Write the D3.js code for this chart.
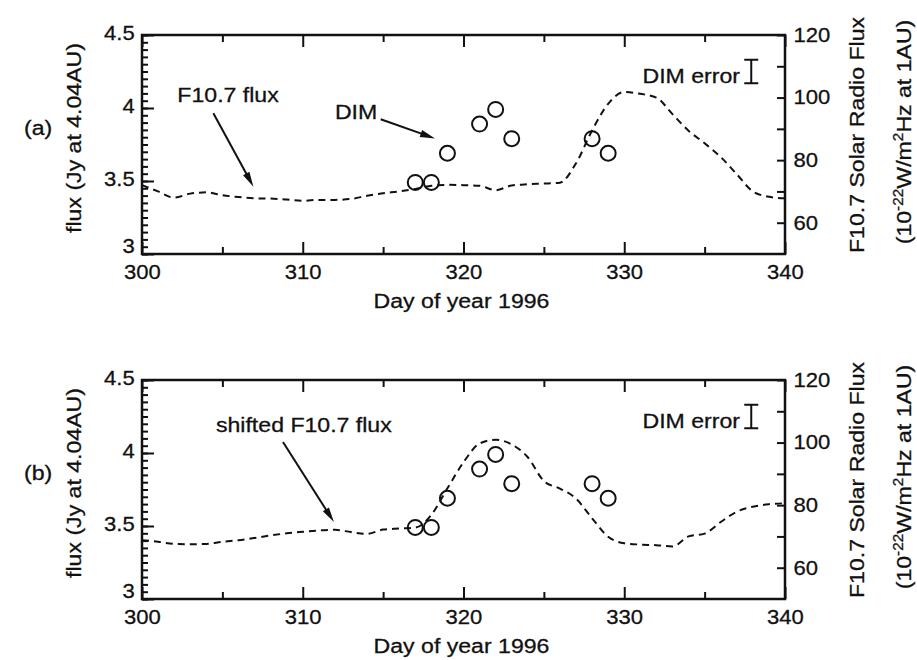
<!DOCTYPE html>
<html>
<head>
<meta charset="utf-8">
<script src="https://cdn.jsdelivr.net/npm/d3@7"></script>
<style>
  html, body { margin: 0; padding: 0; background: #fff; }
  svg { display: block; }
  text { font-family: "Liberation Sans", Arial, Helvetica, sans-serif; fill: #111; stroke: #111; stroke-width: 0.3px; }
</style>
</head>
<body>
<svg id="chart" width="917" height="660"></svg>
<script>
// ---- data -------------------------------------------------------------
const days = [300, 301, 302, 303, 304, 305, 306, 307, 308, 309,
              310, 311, 312, 313, 314, 315, 316, 317, 318, 319,
              320, 321, 322, 323, 324, 325, 326, 327, 328, 329,
              330, 331, 332, 333, 334, 335, 336, 337, 338, 339, 340];

// daily F10.7 solar radio flux (10^-22 W/m^2/Hz at 1 AU)
const f107Flux = [72.0, 70.0, 68.0, 69.3, 69.7, 68.8, 68.2, 67.8, 67.7, 67.4,
                  67.0, 67.3, 67.3, 67.6, 68.6, 69.4, 70.0, 70.8, 71.8, 72.1,
                  72.0, 71.8, 70.4, 71.9, 72.3, 72.5, 72.8, 79.0, 89.5, 98.0,
                  101.8, 101.2, 100.0, 94.7, 89.4, 85.4, 81.0, 75.5, 70.0, 68.3, 67.8];

// the same flux shifted in time
const f107Shifted = [68.8, 68.3, 67.6, 67.5, 67.6, 68.3, 68.8, 69.5, 70.3, 71.0,
                     71.5, 71.9, 72.1, 71.4, 70.8, 72.2, 72.5, 72.8, 76.9, 85.4,
                     93.7, 99.7, 100.9, 99.4, 95.3, 87.7, 85.3, 82.1, 75.8, 69.9,
                     67.8, 67.4, 67.2, 66.8, 70.0, 70.9, 74.6, 77.9, 79.5, 80.3, 80.6];

// DIM measurements (Jy at 4.04 AU)
const dimDays = [317, 318, 319, 321, 322, 323, 328, 329];
const dimFlux = [3.49, 3.49, 3.69, 3.89, 3.99, 3.79, 3.79, 3.69];
const dimErrorHalf = 0.08;

// axes
const dayDomain = [300, 340];
const dayTicks = [300, 310, 320, 330, 340];
const dayMinorTicks = [305, 315, 325, 335];
const fluxDomain = [3, 4.5];
const fluxTicks = [3, 3.5, 4, 4.5];
const sfuDomain = [50, 120];
const sfuTicks = [60, 80, 100, 120];
const sfuMinorTicks = [70, 90, 110];

// text
const panelNames = ["(a)", "(b)"];
const seriesNames = ["F10.7 flux", "shifted F10.7 flux"];
const xTitle = "Day of year 1996";
const yTitle = "flux (Jy at 4.04AU)";
const y2Title = "F10.7 Solar Radio Flux";

// ---- layout -----------------------------------------------------------
const svg = d3.select("#chart");
const L = 142, R = 785, H = 219;
const tops = [35, 380];
const FS = 21;       // font size
const K = 1.1;       // horizontal stretch of the lettering
const KT = 1.05;     // stretch of tick numbers

const x = d3.scaleLinear().domain(dayDomain).range([L, R]);

function stretchedText(g, str, tx, ty, opts = {}) {
  const rot = opts.rotate ? ` rotate(${opts.rotate})` : "";
  return g.append("text")
    .attr("transform", `translate(${tx},${ty})${rot} scale(${opts.k || K},1)`)
    .attr("text-anchor", opts.anchor || "start")
    .attr("font-size", opts.size || FS)
    .text(str);
}

function arrow(g, x1, y1, x2, y2) {
  const ang = Math.atan2(y2 - y1, x2 - x1);
  const len = 15, hw = 3.6;
  const bx = x2 - len * Math.cos(ang), by = y2 - len * Math.sin(ang);
  g.append("line")
    .attr("x1", x1).attr("y1", y1).attr("x2", bx + 2 * Math.cos(ang)).attr("y2", by + 2 * Math.sin(ang))
    .attr("stroke", "#111").attr("stroke-width", 2);
  const px = -Math.sin(ang) * hw, py = Math.cos(ang) * hw;
  g.append("path")
    .attr("d", `M${x2},${y2}L${bx + px},${by + py}L${bx - px},${by - py}Z`)
    .attr("fill", "#111");
}

const panels = [
  {
    series: f107Flux,
    label: { text: seriesNames[0], day: 302.2, flux: 4.04 },
    arrows: [
      { from: [304.44, 3.964], to: [306.93, 3.461] },
      { from: [314.85, 3.923], to: [318.23, 3.791] }
    ],
    dimLabel: { day: 312.0, flux: 3.925 }
  },
  {
    series: f107Shifted,
    label: { text: seriesNames[1], day: 304.6, flux: 4.144 },
    arrows: [
      { from: [308.77, 4.075], to: [311.94, 3.527] }
    ],
    dimLabel: null
  }
];

panels.forEach((p, i) => {
  const top = tops[i], bottom = top + H;
  const yL = d3.scaleLinear().domain(fluxDomain).range([bottom, top]);
  const yR = d3.scaleLinear().domain(sfuDomain).range([bottom, top]);
  const g = svg.append("g");

  // ticks pointing into the plot
  const tickAxis = (gen, tx, ty) => {
    const a = g.append("g").attr("transform", `translate(${tx},${ty})`).call(gen);
    a.select(".domain").remove();
    a.selectAll("line").attr("stroke", "#111").attr("stroke-width", 2);
    return a;
  };
  tickAxis(d3.axisTop(x).tickValues(dayTicks).tickSize(12).tickFormat(""), 0, bottom);
  tickAxis(d3.axisTop(x).tickValues(dayMinorTicks).tickSize(7).tickFormat(""), 0, bottom);
  tickAxis(d3.axisBottom(x).tickValues(dayTicks).tickSize(12).tickFormat(""), 0, top);
  tickAxis(d3.axisBottom(x).tickValues(dayMinorTicks).tickSize(7).tickFormat(""), 0, top);
  tickAxis(d3.axisRight(yL).tickValues(fluxTicks).tickSize(12).tickFormat(""), L, 0);
  tickAxis(d3.axisRight(yL).tickValues(yL.ticks(30)).tickSize(6).tickFormat(""), L, 0);
  tickAxis(d3.axisLeft(yR).tickValues(sfuTicks.concat(sfuMinorTicks)).tickSize(8).tickFormat(""), R, 0);

  // tick numbers outside the frame
  const labelAxis = (gen, tx, ty, dy) => {
    const a = g.append("g").attr("transform", `translate(${tx},${ty})`).call(gen);
    a.select(".domain").remove();
    a.selectAll("text")
      .attr("font-size", FS)
      .attr("font-family", null)
      .attr("fill", "#111")
      .attr("transform", `scale(${KT},1)`);
    if (dy) a.selectAll("text").attr("dy", dy);
    return a;
  };
  labelAxis(d3.axisBottom(x).tickValues(dayTicks).tickSize(0).tickPadding(10), 0, bottom);
  const left = labelAxis(d3.axisLeft(yL).tickValues(fluxTicks).tickSize(0).tickPadding(7)
    .tickFormat(d3.format("~g")), L, 0, d => (d === fluxDomain[0] ? "-0.05em" : "0.2em"));
  labelAxis(d3.axisRight(yR).tickValues(sfuTicks).tickSize(0).tickPadding(8), R, 0, "0.3em");

  // frame
  g.append("rect")
    .attr("x", L).attr("y", top).attr("width", R - L).attr("height", H)
    .attr("fill", "none").attr("stroke", "#111").attr("stroke-width", 2.5);

  // F10.7 dashed curve on the right-hand scale
  const line = d3.line()
    .x((d, j) => x(days[j]))
    .y(d => yR(d))
    .curve(d3.curveMonotoneX);
  g.append("path")
    .datum(p.series)
    .attr("d", line)
    .attr("fill", "none")
    .attr("stroke", "#111")
    .attr("stroke-width", 2)
    .attr("stroke-dasharray", "7,5");

  // DIM points
  g.selectAll("circle.dim")
    .data(dimDays)
    .join("circle")
    .attr("class", "dim")
    .attr("cx", d => x(d))
    .attr("cy", (d, j) => yL(dimFlux[j]))
    .attr("r", 7.5)
    .attr("fill", "none")
    .attr("stroke", "#111")
    .attr("stroke-width", 2);

  // DIM error bar legend
  const errDay = 337.9, errCenter = 4.25;
  const ex = x(errDay);
  g.append("path")
    .attr("d", `M${ex},${yL(errCenter + dimErrorHalf)}V${yL(errCenter - dimErrorHalf)}` +
               `M${ex - 7},${yL(errCenter + dimErrorHalf)}H${ex + 7}` +
               `M${ex - 7},${yL(errCenter - dimErrorHalf)}H${ex + 7}`)
    .attr("stroke", "#111").attr("stroke-width", 2).attr("fill", "none");
  stretchedText(g, "DIM error", x(337.2), yL(4.168), { anchor: "end" });

  // annotations
  stretchedText(g, p.label.text, x(p.label.day), yL(p.label.flux));
  if (p.dimLabel) stretchedText(g, "DIM", x(p.dimLabel.day), yL(p.dimLabel.flux));
  p.arrows.forEach(a => arrow(g, x(a.from[0]), yL(a.from[1]), x(a.to[0]), yL(a.to[1])));

  // titles
  stretchedText(g, xTitle, (L + R) / 2 - 2, bottom + 54, { anchor: "middle" });
  stretchedText(g, yTitle, 81, top + 103, { anchor: "middle", rotate: -90 });
  stretchedText(g, y2Title, 864, top + 100, { anchor: "middle", rotate: -90 });

  const u = g.append("text")
    .attr("transform", `translate(911,${top + 97}) rotate(-90) scale(${K},1)`)
    .attr("text-anchor", "middle")
    .attr("font-size", FS);
  u.append("tspan").text("(10");
  u.append("tspan").attr("dy", -8).attr("font-size", 14).text("-22");
  u.append("tspan").attr("dy", 8).text("W/m");
  u.append("tspan").attr("dy", -8).attr("font-size", 14).text("2");
  u.append("tspan").attr("dy", 8).text("Hz at 1AU)");

  stretchedText(g, panelNames[i], 24, top + 100);
});
</script>
</body>
</html>
